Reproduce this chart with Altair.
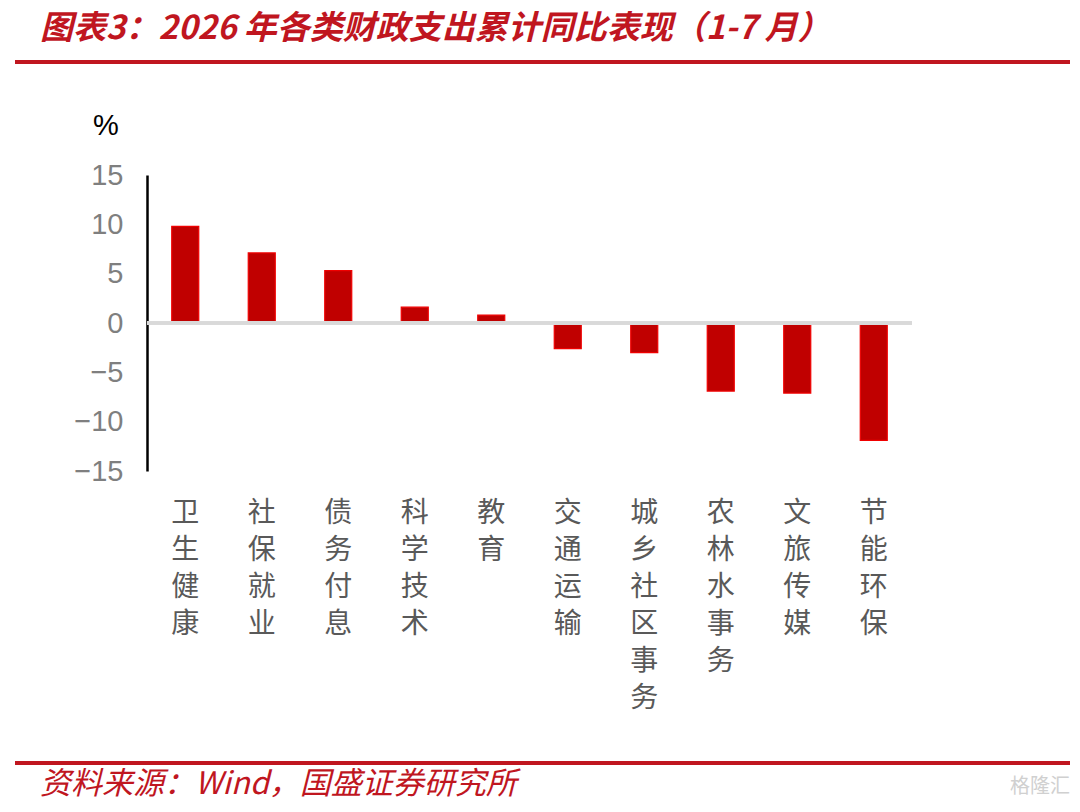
import altair as alt
import pandas as pd

categories = ["卫生健康", "社保就业", "债务付息", "科学技术", "教育",
              "交通运输", "城乡社区事务", "农林水事务", "文旅传媒", "节能环保"]
values = [9.8, 7.1, 5.3, 1.6, 0.8, -2.6, -3.0, -6.9, -7.1, -11.9]
y_ticks = [-15, -10, -5, 0, 5, 10, 15]

title_text = "图表3：2026 年各类财政支出累计同比表现（1-7 月）"
source_text = "资料来源：Wind，国盛证券研究所"
unit_text = "%"
watermark_text = "格隆汇"

df = pd.DataFrame({"cat": categories, "val": values})

W, H = 765, 296
RED = "#C0161F"
CJK = "Noto Sans CJK SC"

base = alt.Chart(df)

bars = base.mark_bar(size=27, color="#C00000", stroke="#F00000", strokeWidth=1.2).encode(
    x=alt.X("cat:N", sort=None, title=None,
            axis=alt.Axis(domain=False, ticks=False, labelAngle=0,
                          labelExpr="split(datum.label, '')",
                          labelFont=CJK, labelFontSize=28, labelColor="#595959",
                          labelLineHeight=37, labelBaseline="top", labelPadding=28)),
    y=alt.Y("val:Q", title=None,
            scale=alt.Scale(domain=[-15, 15], nice=False),
            axis=alt.Axis(values=y_ticks, grid=False, ticks=False,
                          domainColor="#000000", domainWidth=2.5,
                          labelFont="Liberation Sans", labelFontSize=29,
                          labelColor="#7F7F7F", labelPadding=24)),
)

zero = base.mark_rule(color="#D9D9D9", strokeWidth=3).encode(
    y=alt.datum(0), x=alt.value(0), x2=alt.value(W)
)

def txt(s, x, y, **kw):
    return alt.Chart(pd.DataFrame({"t": [s]})).mark_text(**kw).encode(
        text="t:N", x=alt.value(x), y=alt.value(y))

def rule(y):
    return alt.Chart(pd.DataFrame({"a": [0]})).mark_rule(color=RED, strokeWidth=4).encode(
        x=alt.value(-132), x2=alt.value(923), y=alt.value(y))

title = txt(title_text, -107, -146, align="left", baseline="middle", font=CJK,
            fontSize=33, fontWeight="bold", fontStyle="italic", color=RED)
source = txt(source_text, -107, 610, align="left", baseline="middle", font=CJK,
             fontSize=31, fontStyle="italic", color=RED)
unit = txt(unit_text, -41, -49, align="center", baseline="middle",
           font="Liberation Sans", fontSize=29, color="#000000")
wm = txt(watermark_text, 923, 612, align="right", baseline="middle", font=CJK,
         fontSize=20, color="#D0D0D0")

chart = alt.layer(bars, zero, title, rule(-113), rule(588), source, unit, wm).properties(
    width=W, height=H,
    autosize=alt.AutoSizeParams(type="none"),
    padding={"left": 139, "top": 167, "right": 160, "bottom": 333},
    background="white",
).configure_view(stroke=None, strokeWidth=0)

chart.save("out.html", embed_options={"renderer": "svg", "actions": False})
